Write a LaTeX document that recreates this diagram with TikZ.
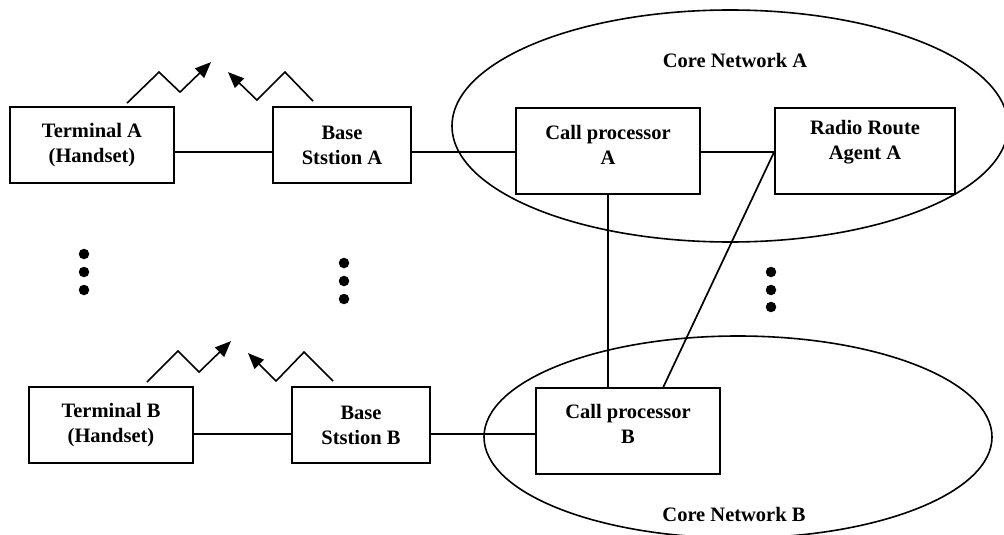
\documentclass[tikz,border=0pt]{standalone}
\usepackage{fontspec}
\setmainfont{Liberation Serif}
\usetikzlibrary{arrows.meta,calc}
\begin{document}
\begin{tikzpicture}[x=1pt,y=-1pt,
  box/.style={draw, rectangle, line width=1.8pt, inner sep=0pt},
  lbl/.style={font=\bfseries\fontsize{20.5}{25}\selectfont, align=center, inner sep=0pt},
  link/.style={line width=1.7pt},
  wave/.style={line width=1.6pt, -{Triangle[length=16pt,width=13pt]}},
  dotmark/.style={fill, circle, minimum size=10.5pt, inner sep=0pt},
  cloud/.style={line width=1.6pt}]
\useasboundingbox (0,0) rectangle (1004,535);
\clip (0,0) rectangle (1004,535);

% core network areas
\draw[cloud] (730,126) ellipse [x radius=278pt, y radius=116pt];
\draw[cloud] (738,437) ellipse [x radius=254pt, y radius=101pt];
\node[lbl] (cna) at (735,60) {Core Network A};
\node[lbl] (cnb) at (734,514) {Core Network B};

% row A
\node[box, lbl, minimum width=164pt, minimum height=76pt] (ta) at (92,145) {Terminal A\\(Handset)};
\node[box, lbl, minimum width=138pt, minimum height=76pt] (ba) at (342,145) {Base\\Ststion A};
\node[box, minimum width=184pt, minimum height=86pt] (cpa) at (608,151) {};
\node[lbl] (cpatext) at (608,144.5) {Call processor\\A};
\node[box, minimum width=180pt, minimum height=86pt] (rra) at (865,151) {};
\node[lbl] (rratext) at (865,142.5) {Radio Route\\Agent A};

% row B
\node[box, lbl, minimum width=164pt, minimum height=76pt] (tb) at (111,425) {Terminal B\\(Handset)};
\node[box, lbl, minimum width=138pt, minimum height=76pt] (bb) at (361,425) {Base\\Ststion B};
\node[box, minimum width=184pt, minimum height=86pt] (cpb) at (628,431) {};
\node[lbl] (cpbtext) at (628,423.5) {Call processor\\B};

% wired links
\coordinate (rowA) at (0,152);
\coordinate (rowB) at (0,434);
\draw[link] (ta.east |- rowA) -- (ba.west |- rowA);
\draw[link] (ba.east |- rowA) -- (cpa.west |- rowA);
\draw[link] (cpa.east |- rowA) -- (rra.west |- rowA);
\draw[link] (tb.east |- rowB) -- (bb.west |- rowB);
\draw[link] (bb.east |- rowB) -- (cpb.west |- rowB);
\draw[link] (cpa.south) -- (cpa.south |- cpb.north);
\draw[link] (rra.west |- rowA) -- ($(cpb.north west)!0.69!(cpb.north east)$);

% radio links
\draw[wave] ([shift={(35,-3)}]ta.north) -- ++(32,-31) -- ++(21,20) -- ++(31,-30);
\draw[wave] ([shift={(-29,-5)}]ba.north) -- ++(-28,-29) -- ++(-28,28) -- ++(-29,-28);
\draw[wave] ([shift={(36,-4)}]tb.north) -- ++(31,-31) -- ++(21,21) -- ++(32,-31);
\draw[wave] ([shift={(-28,-5)}]bb.north) -- ++(-29,-29) -- ++(-28,29) -- ++(-28,-28);

% ellipsis dots
\foreach \i/\y in {1/254,2/272,3/290} \node[dotmark] (dl\i) at (84,\y) {};
\foreach \i/\y in {1/263,2/281,3/299} \node[dotmark] (dm\i) at (344,\y) {};
\foreach \i/\y in {1/272,2/290,3/307} \node[dotmark] (dr\i) at (771,\y) {};
\end{tikzpicture}
\end{document}
